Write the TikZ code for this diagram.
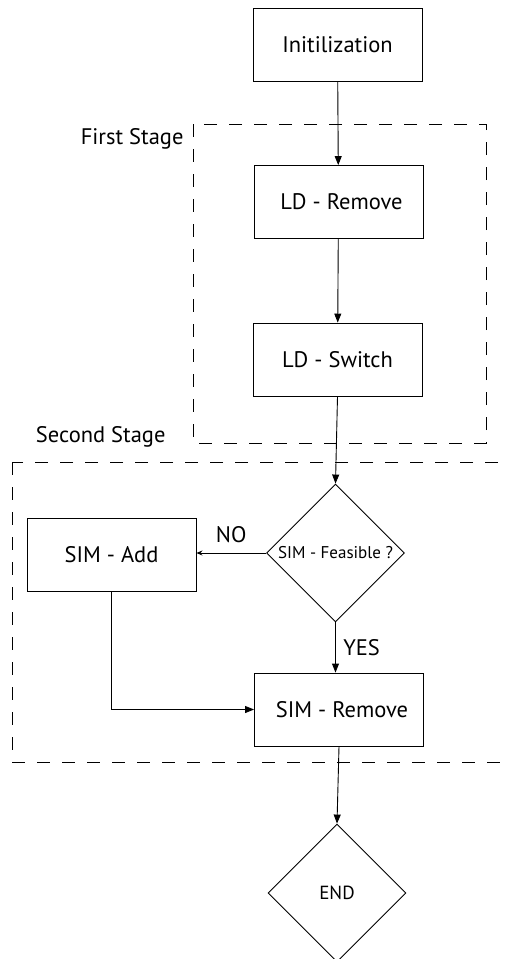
\documentclass[tikz,border=0pt]{standalone}
\usepackage{fontspec}
\setmainfont{PT Sans}
\usetikzlibrary{shapes.geometric,arrows.meta}
\begin{document}
\begin{tikzpicture}[x=1pt,y=-1pt,
  every node/.style={font=\fontsize{22.5}{26}\selectfont},
  procbox/.style={draw,line width=0.9pt,minimum width=169pt,minimum height=73pt,inner sep=0pt},
  decide/.style={draw,diamond,line width=0.9pt,minimum width=138pt,minimum height=138pt,inner sep=0pt,aspect=1},
  flow/.style={line width=0.9pt,-{Triangle[length=9pt,width=7pt]}},
  flowsmall/.style={line width=0.9pt,-{Stealth[length=6pt,width=5pt]}},
  stagebox/.style={line width=0.8pt,dash pattern=on 13pt off 12pt},
  tag/.style={font=\fontsize{22.5}{26}\selectfont}]
\useasboundingbox (0,0) rectangle (507,959);

% stage frames
\draw[stagebox] (193,124) rectangle (486,443);
\draw[stagebox] (12,462) rectangle (530,762);
\node[tag,anchor=east] (first) at (187,139) {First Stage};
\node[tag,anchor=east] (second) at (169,437) {Second Stage};

% process steps
\node[procbox] (init) at (337.5,45) {Initilization};
\node[procbox] (ldr) at (338.5,202) {\hspace*{6pt}LD - Remove};
\node[procbox] (lds) at (337.5,359.5) {LD - Switch};
\node[decide,font=\fontsize{17}{19}\selectfont] (feas) at (335.5,553) {SIM - Feasible ?};
\node[procbox] (simadd) at (111.5,554.5) {SIM - Add};
\node[procbox] (simrem) at (339,709.5) {\hspace*{6pt}SIM - Remove};
\node[decide,font=\fontsize{19}{21}\selectfont] (end) at (337,893) {END};

% connectors
\draw[flow] (init) -- (ldr);
\draw[flow] (ldr) -- (lds);
\draw[flow] (lds.south) -- (feas.north);
\draw[flowsmall] (feas.west) -- (feas.west -| simadd.east)
  node[midway,above=6pt,tag] (no) {NO};
\draw[flow] (feas.south) -- (feas.south |- simrem.north)
  node[midway,right=4pt,tag] (yes) {YES};
\draw[flow] (simadd.south) |- (simrem.west);
\draw[flow] (simrem.south) -- (end.north);
\end{tikzpicture}
\end{document}
